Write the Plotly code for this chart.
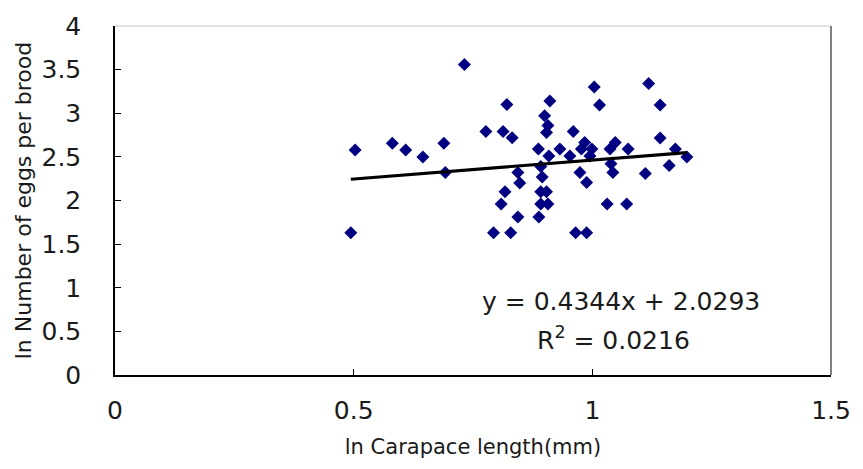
import plotly.graph_objects as go

# data
x_vals = [0.494, 0.503, 0.581, 0.609, 0.645, 0.689, 0.692, 0.732, 0.777, 0.793,
          0.809, 0.813, 0.817, 0.821, 0.829, 0.832, 0.844, 0.848, 0.844, 0.888,
          0.892, 0.907, 0.892, 0.904, 0.895, 0.892, 0.887, 0.909, 0.900, 0.907,
          0.904, 0.911, 0.932, 0.953, 0.960, 0.965, 0.988, 0.974, 0.988, 0.977,
          0.984, 0.999, 0.995, 1.004, 1.015, 1.031, 1.072, 1.039, 1.043, 1.037,
          1.048, 1.075, 1.111, 1.118, 1.142, 1.142, 1.161, 1.174, 1.198]
y_vals = [1.63, 2.58, 2.655, 2.58, 2.50, 2.655, 2.32, 3.56, 2.79, 1.63,
          1.96, 2.79, 2.10, 3.10, 1.63, 2.72, 2.32, 2.20, 1.81, 1.81,
          1.96, 1.96, 2.10, 2.10, 2.27, 2.39, 2.59, 2.51, 2.97, 2.86,
          2.78, 3.14, 2.59, 2.51, 2.79, 1.63, 1.63, 2.32, 2.205, 2.59,
          2.665, 2.59, 2.51, 3.30, 3.095, 1.96, 1.96, 2.42, 2.32, 2.59,
          2.665, 2.59, 2.31, 3.34, 3.095, 2.715, 2.40, 2.59, 2.50]
slope = 0.4344
intercept = 2.0293
r_squared = 0.0216
x_ticks = [0, 0.5, 1, 1.5]
y_ticks = [0, 0.5, 1, 1.5, 2, 2.5, 3, 3.5, 4]
x_title = "ln Carapace length(mm)"
y_title = "ln Number of eggs per brood"

FONT = "DejaVu Sans, Liberation Sans, sans-serif"
TXT = "#1a1a1a"

fig = go.Figure()
fig.add_trace(go.Scatter(
    x=x_vals, y=y_vals, mode="markers",
    marker=dict(symbol="diamond", size=10, color="#000080", line=dict(width=0)),
    showlegend=False, hoverinfo="x+y"))

x_line = [min(x_vals), max(x_vals)]
y_line = [slope * v + intercept for v in x_line]
fig.add_trace(go.Scatter(x=x_line, y=y_line, mode="lines",
                         line=dict(color="black", width=3.2), showlegend=False))

fig.add_annotation(x=1.06, y=0.845, xref="x", yref="y", showarrow=False,
                   text=f"y = {slope}x + {intercept}",
                   font=dict(family=FONT, size=25, color=TXT))
fig.add_annotation(x=1.045, y=0.42, xref="x", yref="y", showarrow=False,
                   text=f"R<sup>2</sup> = {r_squared}",
                   font=dict(family=FONT, size=25, color=TXT))

# plot frame (top light gray, right gray)
fig.add_shape(type="line", xref="paper", yref="paper", x0=0, x1=1, y0=1, y1=1,
              line=dict(color="#d8d8d8", width=1.5))
fig.add_shape(type="line", xref="paper", yref="paper", x0=1, x1=1, y0=0, y1=1,
              line=dict(color="#808080", width=2))

fig.update_xaxes(range=[0, 1.5], tickvals=x_ticks, ticktext=[str(v) for v in x_ticks],
                 showgrid=False, zeroline=False, showline=True, linecolor="black", linewidth=1.5,
                 ticks="inside", ticklen=6, tickcolor="black",
                 tickfont=dict(family=FONT, size=25, color=TXT),
                 title=dict(text=x_title, font=dict(family=FONT, size=21, color=TXT), standoff=16),
                 ticklabelstandoff=12)
fig.update_yaxes(range=[0, 4], tickvals=y_ticks, ticktext=[str(v) for v in y_ticks],
                 showgrid=False, zeroline=False, showline=True, linecolor="black", linewidth=1.5,
                 ticks="inside", ticklen=6, tickcolor="black",
                 tickfont=dict(family=FONT, size=25, color=TXT),
                 title=dict(text=y_title, font=dict(family=FONT, size=22, color=TXT), standoff=4),
                 ticklabelstandoff=27)

fig.update_layout(width=863, height=469, margin=dict(l=115, r=29, t=20, b=94),
                  plot_bgcolor="white", paper_bgcolor="white")

fig.write_html("out.html")
